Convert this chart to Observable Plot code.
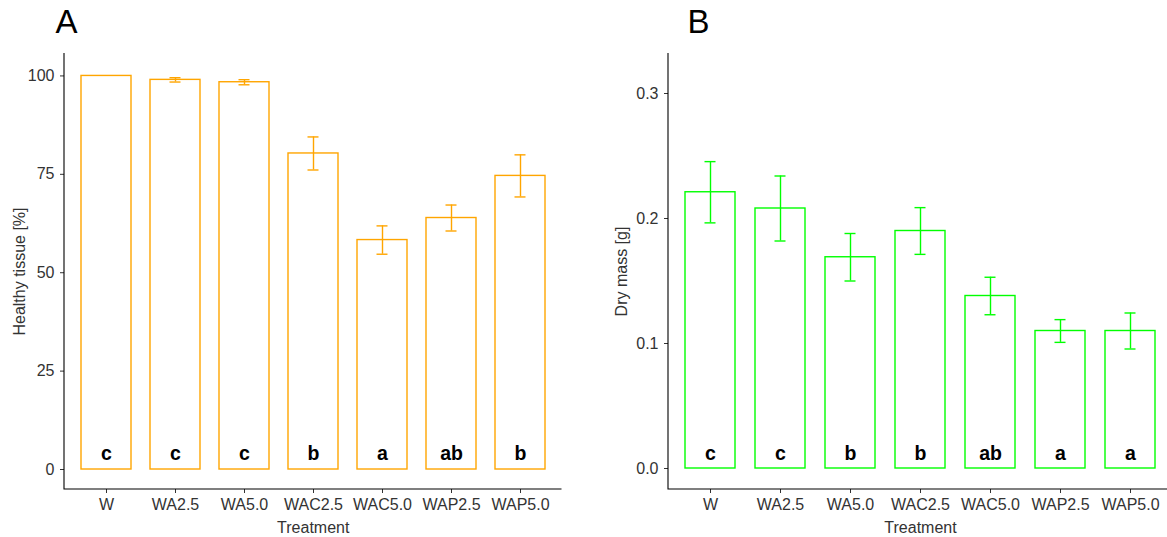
<!DOCTYPE html>
<html><head><meta charset="utf-8">
<script src="https://cdn.jsdelivr.net/npm/d3@7"></script>
<script src="https://cdn.jsdelivr.net/npm/@observablehq/plot@0.6"></script>
<style>
html,body{margin:0;padding:0;background:#fff;overflow:hidden;}
#wrap{position:relative;width:1172px;height:537px;font-family:"Liberation Sans",Arial,sans-serif;}
#pa{position:absolute;left:0;top:0;}
#pb{position:absolute;left:587px;top:0;}
svg{overflow:visible;}
</style></head><body>
<div id="wrap"><div id="pa"></div><div id="pb"></div></div>
<script>
const treatments = ["W","WA2.5","WA5.0","WAC2.5","WAC5.0","WAP2.5","WAP5.0"];
const healthyMean = [100, 99.0, 98.4, 80.3, 58.3, 63.9, 74.6];
const healthySE = [0, 0.55, 0.65, 4.2, 3.6, 3.3, 5.35];
const healthyLetters = ["c","c","c","b","a","ab","b"];
const dryMean = [0.221, 0.208, 0.169, 0.190, 0.138, 0.110, 0.110];
const drySE = [0.0245, 0.026, 0.019, 0.0187, 0.015, 0.0091, 0.0144];
const dryLetters = ["c","c","b","b","ab","a","a"];
const healthyTicks = [0, 25, 50, 75, 100];
const dryTicks = [0, 0.1, 0.2, 0.3];

function axisLines(...args) {
  const dims = args.find(a => a && typeof a === "object" && "marginLeft" in a && "width" in a);
  const p = document.createElementNS("http://www.w3.org/2000/svg", "path");
  const x0 = dims.marginLeft, yb = dims.height - dims.marginBottom, x1 = dims.width - dims.marginRight, yt = dims.marginTop;
  p.setAttribute("d", `M${x0},${yt}V${yb}H${x1}`);
  p.setAttribute("fill", "none");
  p.setAttribute("stroke", "#000");
  p.setAttribute("stroke-width", "1.1");
  return p;
}

function panel({means, ses, letters, color, ticks, tickFormat, domain, yLabel, yLabelOffset, tag, tagDx, width, marginLeft, marginRight, letterDy}) {
  const rows = treatments.map((t, i) => ({t, m: means[i], se: ses[i], lo: means[i] - ses[i], hi: means[i] + ses[i], L: letters[i]}));
  const err = rows.filter(d => d.se > 0);
  const sw = 1.4;
  return Plot.plot({
    width, height: 537, marginLeft, marginRight, marginTop: 53, marginBottom: 48,
    style: {fontFamily: "'Liberation Sans', Arial, sans-serif", background: "transparent", overflow: "visible"},
    x: {domain: treatments, paddingInner: 0.28, paddingOuter: 0.24, align: 0.5},
    y: {domain},
    marks: [
      Plot.barY(rows, {x: "t", y: "m", fill: "none", stroke: color, strokeWidth: sw}),
      Plot.ruleX(err, {x: "t", y1: "lo", y2: "hi", stroke: color, strokeWidth: sw}),
      Plot.tickY(err, {x: "t", y: "lo", stroke: color, strokeWidth: sw, inset: 19.5}),
      Plot.tickY(err, {x: "t", y: "hi", stroke: color, strokeWidth: sw, inset: 19.5}),
      Plot.text(rows, {x: "t", y: 0, text: "L", fontWeight: "bold", fontSize: 19.5, fill: "#000", lineAnchor: "middle", dy: letterDy}),
      Plot.axisY({ticks, tickFormat, tickSize: 4, tickPadding: 6, fontSize: 16, color: "#333",
        label: yLabel, labelAnchor: "center", labelOffset: yLabelOffset, labelArrow: false}),
      Plot.axisX({tickSize: 4, tickPadding: 5, fontSize: 16, color: "#333",
        label: "Treatment", labelAnchor: "center", labelOffset: 43, labelArrow: false}),
      axisLines,
      Plot.text([tag], {frameAnchor: "top-left", text: d => d, fontSize: 33, fill: "#000", textAnchor: "start", lineAnchor: "bottom", dx: tagDx, dy: -21})
    ]
  });
}

document.getElementById("pa").appendChild(panel({
  means: healthyMean, ses: healthySE, letters: healthyLetters, color: "#FFA500",
  ticks: healthyTicks, tickFormat: d3.format("d"), domain: [-5.08, 105.7],
  yLabel: "Healthy tissue [%]", yLabelOffset: 51, tag: "A", tagDx: -9,
  width: 580, marginLeft: 64, marginRight: 18.5, letterDy: -16
}));
document.getElementById("pb").appendChild(panel({
  means: dryMean, ses: drySE, letters: dryLetters, color: "#00FF00",
  ticks: dryTicks, tickFormat: d3.format(".1f"), domain: [-0.0168, 0.332],
  yLabel: "Dry mass [g]", yLabelOffset: 53, tag: "B", tagDx: 19,
  width: 585, marginLeft: 81, marginRight: 0, letterDy: -15
}));
</script>
</body></html>
